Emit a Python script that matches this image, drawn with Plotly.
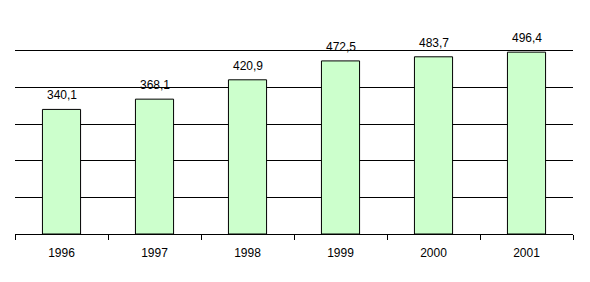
import plotly.graph_objects as go

years = ["1996", "1997", "1998", "1999", "2000", "2001"]
values = [340.1, 368.1, 420.9, 472.5, 483.7, 496.4]
labels = ["340,1", "368,1", "420,9", "472,5", "483,7", "496,4"]

fig = go.Figure()
fig.add_trace(go.Bar(
    x=years, y=values,
    marker=dict(color="#CCFFCC", line=dict(color="black", width=1)),
    width=0.41,
    hoverinfo="skip",
))
for i, (v, t) in enumerate(zip(values, labels)):
    fig.add_annotation(x=i, y=v, xref="x", yref="y", text=t, showarrow=False,
                       yanchor="middle", yshift=14,
                       font=dict(family="Liberation Sans, Arial", size=12, color="black"))

fig.update_layout(
    width=590, height=282,
    margin=dict(l=15, r=17, t=49, b=48),
    paper_bgcolor="white", plot_bgcolor="white",
    showlegend=False,
    font=dict(family="Liberation Sans, Arial", size=12, color="black"),
    xaxis=dict(type="category", range=[-0.5, len(years) - 0.5],
               showline=True, linecolor="black", linewidth=1,
               ticks="outside", tickson="boundaries", ticklen=5, tickcolor="black",
               ticklabelstandoff=8,
               showgrid=False, tickfont=dict(size=12, color="black")),
    yaxis=dict(range=[0, 505], tick0=0, dtick=100, showgrid=True, gridcolor="black", gridwidth=1,
               showticklabels=False, zeroline=False, showline=False, ticks=""),
)
fig.write_html("out.html")
